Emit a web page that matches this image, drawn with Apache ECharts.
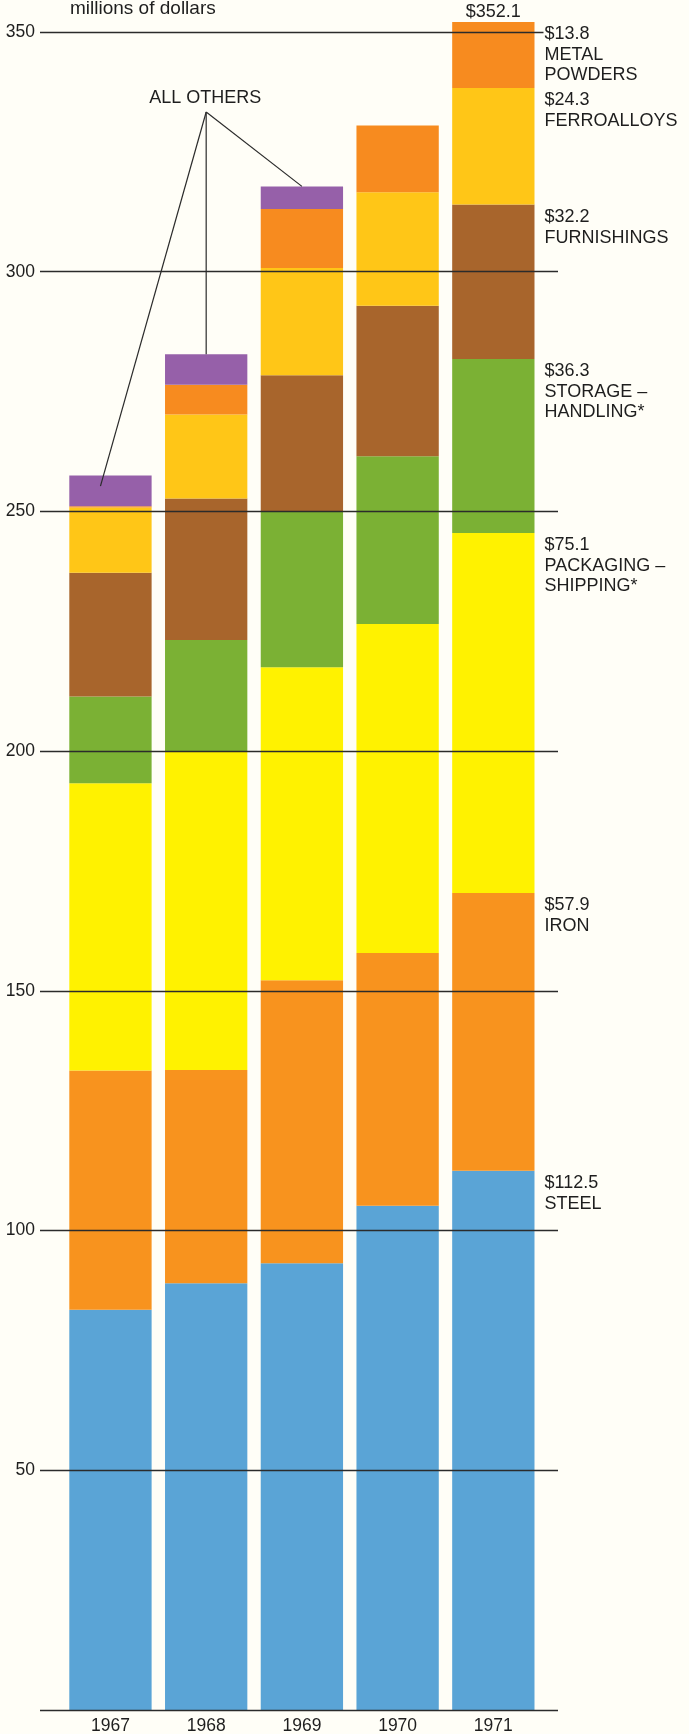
<!DOCTYPE html>
<html>
<head>
<meta charset="utf-8">
<script src="https://cdn.jsdelivr.net/npm/echarts@6/dist/echarts.min.js"></script>
<style>
html,body{margin:0;padding:0;background:#fffef7;}
#c{width:689px;height:1734px;}
</style>
</head>
<body>
<div id="c"></div>
<script>
// ---- data (millions of dollars) ----
const years = ['1967', '1968', '1969', '1970', '1971'];
const steel             = [83.5, 89.0, 93.2, 105.2, 112.5];
const iron              = [49.9, 44.5, 59.0, 52.7, 57.9];
const packagingShipping = [59.9, 66.3, 65.3, 68.6, 75.1];
const storageHandling   = [18.1, 23.4, 32.4, 35.0, 36.3];
const furnishings       = [25.8, 29.5, 28.5, 31.4, 32.2];
const ferroalloys       = [13.6, 17.5, 22.4, 23.7, 24.3];
const metalPowders      = [0.3, 6.2, 12.3, 13.9, 13.8];
const allOthers         = [6.4, 6.4, 4.7, 0, 0];
const yTickLabels = [50, 100, 150, 200, 250, 300, 350];
const totalLabel = '$352.1';

// ---- styling ----
const FONT = '"Liberation Sans", Arial, Helvetica, sans-serif';
const TXT = '#1e1e1e';
const BG = '#fffef7';
const GAP = 0.14;
const stackData = [steel, iron, packagingShipping, storageHandling, furnishings, ferroalloys, metalPowders, allOthers];
const stackNames = ['Steel', 'Iron', 'Packaging – shipping', 'Storage – handling', 'Furnishings', 'Ferroalloys', 'Metal powders', 'All others'];
const stackColors = ['#5aa4d6', '#f8931e', '#fff200', '#7bb134', '#a8652c', '#ffc617', '#f78b1f', '#9660a9'];
const labelLines = [['STEEL'], ['IRON'], ['PACKAGING –', 'SHIPPING*'], ['STORAGE –', 'HANDLING*'], ['FURNISHINGS'], ['FERROALLOYS'], ['METAL', 'POWDERS']];

const last = years.length - 1;
const cumTops = [];
let acc = 0;
for (let k = 0; k < labelLines.length; k++) { acc += stackData[k][last]; cumTops.push(+acc.toFixed(1)); }
const yearTotals = years.map((_, i) => +stackData.reduce((s, arr) => s + arr[i], 0).toFixed(1));

const chart = echarts.init(document.getElementById('c'), null, {renderer: 'canvas', width: 689, height: 1734});

const barSeries = stackData.map((arr, k) => ({
  type: 'bar',
  name: stackNames[k],
  stack: 'total',
  xAxisIndex: 1,
  yAxisIndex: 1,
  barCategoryGap: (GAP * 100) + '%',
  clip: false,
  z: 2,
  itemStyle: {color: stackColors[k]},
  emphasis: {disabled: true},
  data: arr
}));

const option = {
  backgroundColor: BG,
  animation: false,
  grid: [
    {left: 40, right: 131, top: 32, bottom: 24, containLabel: false, outerBoundsMode: 'none'},
    {left: 62.6, right: 147.8, top: 32, bottom: 24, containLabel: false, outerBoundsMode: 'none'}
  ],
  xAxis: [
    {gridIndex: 0, type: 'value', min: 0, max: 1, show: false},
    {gridIndex: 1, type: 'category', data: years,
     axisLine: {show: false}, axisTick: {show: false},
     axisLabel: {fontSize: 17.5, color: TXT, margin: 7, fontFamily: FONT}}
  ],
  yAxis: [
    {gridIndex: 0, type: 'value', min: 0, max: 350, interval: 50, z: 3,
     name: 'millions of dollars', nameLocation: 'end', nameGap: 23,
     nameTextStyle: {align: 'left', verticalAlign: 'middle', padding: [0, 0, 0, 30], fontSize: 19, color: TXT, fontFamily: FONT},
     axisLine: {show: false}, axisTick: {show: false},
     axisLabel: {fontSize: 17.5, color: TXT, margin: 5, fontFamily: FONT,
       formatter: v => (yTickLabels.indexOf(v) >= 0 ? String(v) : '')},
     splitLine: {show: true, lineStyle: {color: '#2b2b2b', width: 1.3}}},
    {gridIndex: 1, type: 'value', min: 0, max: 350, show: false}
  ],
  series: barSeries.concat([
    {
      type: 'custom', name: 'segment labels', xAxisIndex: 1, yAxisIndex: 1, z: 20, silent: true, clip: false,
      data: cumTops.map((v, k) => [last, v, k]),
      encode: {x: 0, y: 1},
      renderItem: (params, api) => {
        const k = api.value(2);
        const pt = api.coord([api.value(0), api.value(1)]);
        const bw = api.size([1, 0])[0] * (1 - GAP);
        const text = '{v|$' + stackData[k][last].toFixed(1) + '}\n' + labelLines[k].map(s => '{n|' + s + '}').join('\n');
        return {
          type: 'text', x: pt[0] + bw / 2 + 9, y: pt[1] + 1.5,
          style: {
            text: text, align: 'left', verticalAlign: 'top',
            fontFamily: FONT, fontSize: 18, fill: TXT, lineHeight: 21,
            rich: {
              v: {fontFamily: FONT, fontSize: 18, fill: TXT, lineHeight: 21.5, backgroundColor: BG, padding: [0, 2, 0, 1]},
              n: {fontFamily: FONT, fontSize: 18, fill: TXT, lineHeight: 20, padding: [0, 0, 0, 1]}
            }
          }
        };
      }
    },
    {
      type: 'custom', name: 'total', xAxisIndex: 1, yAxisIndex: 1, z: 20, silent: true, clip: false,
      data: [[last, yearTotals[last]]],
      encode: {x: 0, y: 1},
      renderItem: (params, api) => {
        const pt = api.coord([api.value(0), api.value(1)]);
        return {
          type: 'text', x: pt[0], y: pt[1] - 10,
          style: {text: totalLabel, align: 'center', verticalAlign: 'middle', fontFamily: FONT, fontSize: 18, fill: TXT}
        };
      }
    }
  ])
};
chart.setOption(option);

// ---- "ALL OTHERS" annotation, anchored through the chart's own scales ----
const px = (cat, val) => chart.convertToPixel({xAxisIndex: 1, yAxisIndex: 1}, [cat, val]);
const textY = 98;
const apexX = px(1, 0)[0];
const apex = [apexX, textY + 14];
const targets = [];
allOthers.forEach((v, i) => {
  if (v > 0) {
    if (i === 0) {
      const p = px(i, yearTotals[i] - v * 0.35);
      targets.push([p[0] - 10, p[1]]);
    } else {
      targets.push(px(i, yearTotals[i]));
    }
  }
});
const graphics = targets.map(t => ({
  type: 'line', z: 30, silent: true,
  shape: {x1: apex[0], y1: apex[1], x2: t[0], y2: t[1]},
  style: {stroke: '#2b2b2b', lineWidth: 1.2}
}));
graphics.push({
  type: 'text', z: 30, silent: true, x: apexX - 1, y: textY,
  style: {text: 'ALL OTHERS', fontFamily: FONT, fontSize: 18, fill: TXT, align: 'center', verticalAlign: 'middle'}
});
chart.setOption({graphic: graphics});
</script>
</body>
</html>
